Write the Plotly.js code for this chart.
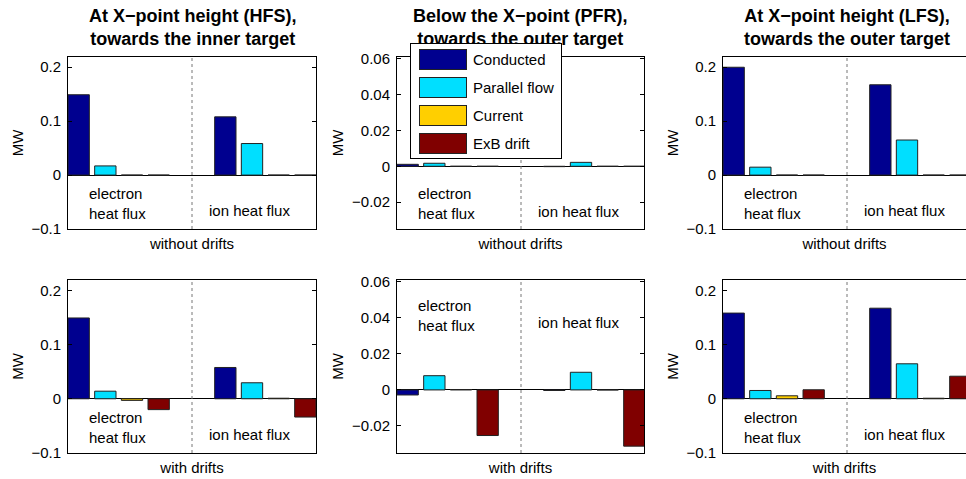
<!DOCTYPE html>
<html>
<head>
<meta charset="utf-8">
<script src="https://cdn.plot.ly/plotly-3.0.1.min.js"></script>
<style>html,body{margin:0;padding:0;background:#fff;}#chart{width:966px;height:479px;}</style>
</head>
<body>
<div id="chart"></div>
<script>
// ---- data ----
const seriesNames = ['Conducted', 'Parallel flow', 'Current', 'ExB drift'];
const groupLabels = ['electron<br>heat flux', 'ion heat flux'];
const panelTitles = [
  'At X\u2212point height (HFS),<br>towards the inner target',
  'Below the X\u2212point (PFR),<br>towards the outer target',
  'At X\u2212point height (LFS),<br>towards the outer target'
];
const rowTitles = ['without drifts', 'with drifts'];
const hfsTicks = [-0.1, 0, 0.1, 0.2];
const pfrTicks = [-0.02, 0, 0.02, 0.04, 0.06];

// values: [Conducted, Parallel flow, Current, ExB drift]
const hfsWithoutElectron = [0.149, 0.017, 0, 0];
const hfsWithoutIon      = [0.108, 0.0585, 0, 0];
const pfrWithoutElectron = [0.0011, 0.0017, 0, 0];
const pfrWithoutIon      = [-0.0002, 0.0022, 0, 0];
const lfsWithoutElectron = [0.200, 0.0147, 0, 0];
const lfsWithoutIon      = [0.1675, 0.065, 0, 0];
const hfsWithElectron    = [0.149, 0.014, -0.003, -0.020];
const hfsWithIon         = [0.0577, 0.0295, 0.001, -0.0337];
const pfrWithElectron    = [-0.0028, 0.0079, 0.0002, -0.0253];
const pfrWithIon         = [-0.0003, 0.0098, 0, -0.0312];
const lfsWithElectron    = [0.158, 0.0153, 0.0055, 0.0166];
const lfsWithIon         = [0.167, 0.0645, 0.001, 0.0416];

// ---- styling ----
const colors = ['#00008F', '#00DFFF', '#FFCF00', '#800000'];
const FONT = 'Liberation Sans, Arial, Helvetica, sans-serif';
const W = 966, H = 479;
const px = v => v / W;
const py = v => 1 - v / H;

const panels = [
  {e: hfsWithoutElectron, i: hfsWithoutIon, ticks: hfsTicks, row: 0, col: 0},
  {e: pfrWithoutElectron, i: pfrWithoutIon, ticks: pfrTicks, row: 0, col: 1},
  {e: lfsWithoutElectron, i: lfsWithoutIon, ticks: hfsTicks, row: 0, col: 2},
  {e: hfsWithElectron, i: hfsWithIon, ticks: hfsTicks, row: 1, col: 0},
  {e: pfrWithElectron, i: pfrWithIon, ticks: pfrTicks, row: 1, col: 1},
  {e: lfsWithElectron, i: lfsWithIon, ticks: hfsTicks, row: 1, col: 2}
];

const colPx = [[68, 316], [397, 644], [723, 966]];
const rowPx = [[57, 229], [280, 453]];
const barStep = (316 - 68) / 9.3;
const groupStart = [1, 6.5];
const sep = (groupStart[0] + 3 + 0.4 + groupStart[1] - 0.4) / 2;

const data = [];
const layout = {
  width: W, height: H,
  margin: {l: 0, r: 0, t: 0, b: 0},
  paper_bgcolor: '#fff', plot_bgcolor: '#fff',
  font: {family: FONT, size: 15, color: '#000'},
  showlegend: false,
  barmode: 'overlay',
  annotations: [],
  shapes: []
};

panels.forEach((p, k) => {
  const n = k + 1;
  const xa = 'x' + (n === 1 ? '' : n), ya = 'y' + (n === 1 ? '' : n);
  const xk = 'xaxis' + (n === 1 ? '' : n), yk = 'yaxis' + (n === 1 ? '' : n);
  seriesNames.forEach((name, s) => {
    data.push({
      type: 'bar', name: name, xaxis: xa, yaxis: ya,
      x: groupStart.map(g => g + s),
      y: [p.e[s], p.i[s]],
      width: 0.8,
      marker: {color: colors[s], line: {color: '#222', width: 1}},
      showlegend: false, hoverinfo: 'skip'
    });
  });
  const cp = colPx[p.col], rp = rowPx[p.row];
  const xmax = 0.6 + (cp[1] - cp[0]) / barStep;
  const isPfr = p.ticks === pfrTicks;
  layout[xk] = {
    domain: [px(cp[0]), px(cp[1])],
    range: [0.6, xmax],
    showticklabels: false, ticks: '', showgrid: false, zeroline: false,
    showline: true, mirror: true, linecolor: '#000', linewidth: 1,
    anchor: ya, fixedrange: true,
    title: {text: rowTitles[p.row], font: {size: 15}, standoff: 9}
  };
  layout[yk] = {
    domain: [py(rp[1]), py(rp[0])],
    range: isPfr ? [-0.035, 0.061] : [-0.1, 0.219],
    tickvals: p.ticks,
    ticks: 'inside', ticklen: 4, tickcolor: '#000',
    showgrid: false, zeroline: true, zerolinecolor: '#000', zerolinewidth: 1,
    showline: true, mirror: p.col === 2 ? false : 'ticks', linecolor: '#000', linewidth: 1,
    anchor: xa, fixedrange: true,
    tickfont: {size: 15},
    ticklabelstandoff: 3,
    title: {text: 'MW', font: {size: 15}, standoff: 4}
  };
  layout.shapes.push({
    type: 'line', xref: xa, yref: ya + ' domain',
    x0: sep, x1: sep, y0: 0, y1: 1,
    line: {color: '#777', width: 1, dash: 'dot'}
  });
  // group labels
  const top = p.row === 0;
  const eY = isPfr ? (top ? -0.021 : 0.0414) : -0.053;
  const iY = isPfr ? (top ? -0.0255 : 0.0375) : -0.066;
  layout.annotations.push({
    xref: xa, yref: ya, x: 2.47, y: eY, xanchor: 'center', text: groupLabels[0], showarrow: false,
    align: 'left', font: {size: 15}
  });
  layout.annotations.push({
    xref: xa, yref: ya, x: 7.4, y: iY, xanchor: 'center', text: groupLabels[1], showarrow: false,
    font: {size: 15}
  });
});

// panel titles
panelTitles.forEach((t, c) => {
  const cp = colPx[c];
  const center = c === 2 ? (723 + 971) / 2 : (cp[0] + cp[1]) / 2;
  layout.annotations.push({
    xref: 'paper', yref: 'paper', x: px(center), y: py(28), xanchor: 'center', yanchor: 'middle',
    text: '<b>' + t + '</b>', showarrow: false, font: {size: 18}
  });
});

// legend (drawn above title)
layout.annotations.push({
  xref: 'paper', yref: 'paper', x: px(410), y: py(43), xanchor: 'left', yanchor: 'top',
  text: ' ', width: 150, height: 114, bgcolor: '#fff', bordercolor: '#000', borderwidth: 1,
  borderpad: 0, showarrow: false
});
seriesNames.forEach((name, s) => {
  const top = 49 + s * 28;
  layout.annotations.push({
    xref: 'paper', yref: 'paper', x: px(419), y: py(top), xanchor: 'left', yanchor: 'top',
    text: ' ', width: 46, height: 19, bgcolor: colors[s], bordercolor: '#222', borderwidth: 1,
    borderpad: 0, showarrow: false
  });
  layout.annotations.push({
    xref: 'paper', yref: 'paper', x: px(471), y: py(top + 10.5), xanchor: 'left', yanchor: 'middle',
    text: name, showarrow: false, font: {size: 15}
  });
});

Plotly.newPlot('chart', data, layout, {staticPlot: true, displayModeBar: false});
</script>
</body>
</html>
